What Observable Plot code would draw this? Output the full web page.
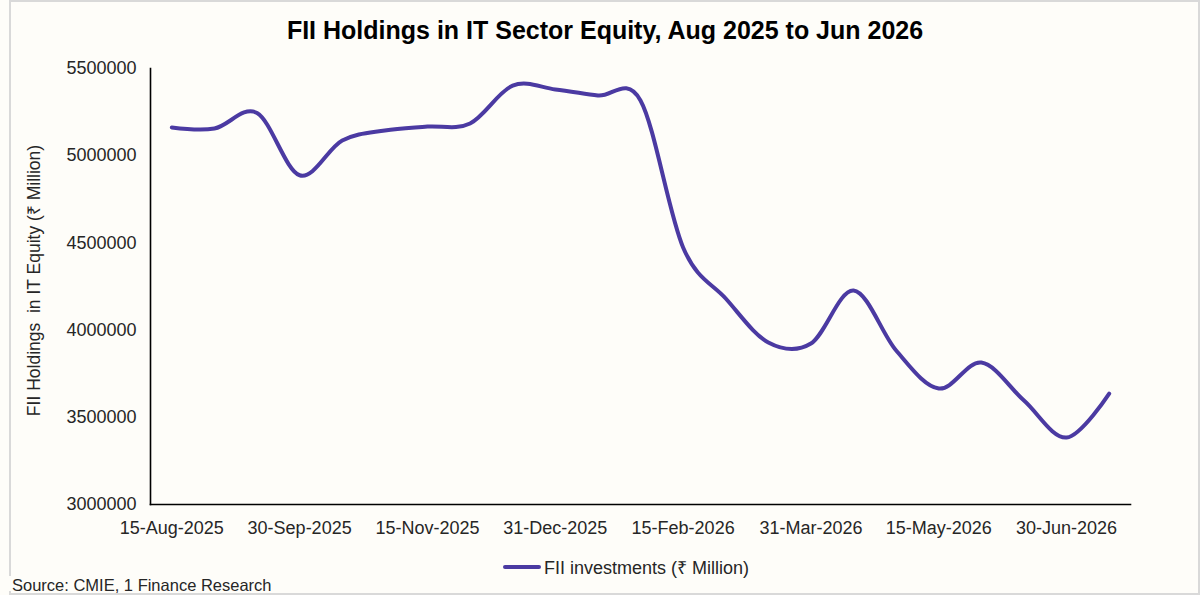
<!DOCTYPE html>
<html><head><meta charset="utf-8">
<script src="https://cdn.jsdelivr.net/npm/d3@7"></script>
<script src="https://cdn.jsdelivr.net/npm/@observablehq/plot@0.6"></script>
<style>
html,body{margin:0;padding:0;background:#fefdf9;}
body{width:1200px;height:595px;overflow:hidden;font-family:"Liberation Sans",Arial,sans-serif;}
#wrap{position:relative;width:1200px;height:595px;}
#box{position:absolute;left:9px;top:0;width:1187px;height:591px;border:2px solid #d9d9d9;box-sizing:content-box;}
#title{position:absolute;left:0;top:15px;width:1210px;text-align:center;font-weight:bold;font-size:25px;line-height:30px;color:#000;}
#chart{position:absolute;left:0;top:0;}
#chart svg text{white-space:pre;}
#legend{position:absolute;left:503px;top:556px;height:22px;display:flex;align-items:center;font-size:18px;color:#262626;}
#legend .sw{width:38px;height:4px;background:#4b3aa2;border-radius:2px;margin-right:3px;}
#srcmask{position:absolute;left:0;top:576px;width:40px;height:15px;background:#fefdf9;}
#source{position:absolute;left:12px;top:576px;font-size:16.5px;line-height:19px;color:#262626;white-space:nowrap;}
</style></head>
<body>
<div id="wrap">
<div id="box"></div>
<div id="srcmask"></div>
<div id="title">FII Holdings in IT Sector Equity, Aug 2025 to Jun 2026</div>
<div id="chart"></div>
<div id="legend"><div class="sw"></div><span>FII investments (₹ Million)</span></div>
<div id="source">Source: CMIE, 1 Finance Research</div>
</div>
<script>
const dates = ["15-Aug-2025","31-Aug-2025","15-Sep-2025","30-Sep-2025","15-Oct-2025","31-Oct-2025",
  "15-Nov-2025","30-Nov-2025","15-Dec-2025","31-Dec-2025","15-Jan-2026","31-Jan-2026",
  "15-Feb-2026","28-Feb-2026","15-Mar-2026","31-Mar-2026","15-Apr-2026","30-Apr-2026",
  "15-May-2026","31-May-2026","15-Jun-2026","30-Jun-2026","15-Jul-2026"];
const values = [5162000,5156000,5245000,4888000,5087000,5145000,
  5167000,5185000,5402000,5380000,5345000,5317000,
  4474000,4181000,3929000,3923000,4227000,3883000,
  3665000,3814000,3596000,3384000,3636000];
const tickLabels = ["15-Aug-2025","30-Sep-2025","15-Nov-2025","31-Dec-2025","15-Feb-2026","31-Mar-2026","15-May-2026","30-Jun-2026"];
const yTicks = [3000000,3500000,4000000,4500000,5000000,5500000];
const yTitle = "FII Holdings  in IT Equity (₹ Million)";
const seriesName = "FII investments (₹ Million)";

const data = dates.map((d,i)=>({date:d, value:values[i]}));

const chart = Plot.plot({
  width:1200, height:545,
  marginTop:68, marginBottom:41, marginLeft:150, marginRight:70,
  style:{background:"transparent", fontFamily:"'Liberation Sans', Arial, sans-serif", color:"#262626"},
  x:{type:"point", domain:dates, padding:0.5, round:false},
  y:{domain:[yTicks[0], yTicks[yTicks.length-1]]},
  marks:[
    Plot.axisY({ticks:yTicks, tickSize:0, tickPadding:14, tickFormat:d3.format("d"), fontSize:18, label:null}),
    Plot.axisX({ticks:tickLabels, tickSize:0, tickPadding:17, fontSize:18, label:null}),
    Plot.text([yTitle], {text:d=>d, frameAnchor:"left", textAnchor:"middle", rotate:-90, dx:-116, dy:-6, fontSize:17.5, fill:"#262626"}),
    Plot.line(data, {x:"date", y:"value", curve:"cardinal", stroke:"#4b3aa2", strokeWidth:4, strokeLinecap:"round", strokeLinejoin:"round"}),
    Plot.frame({anchor:"left", stroke:"#000", strokeWidth:1.6}),
    Plot.frame({anchor:"bottom", stroke:"#000", strokeWidth:1.6})
  ]
});
document.getElementById("chart").appendChild(chart);
document.querySelector("#legend span").textContent = seriesName;
</script>
</body></html>
